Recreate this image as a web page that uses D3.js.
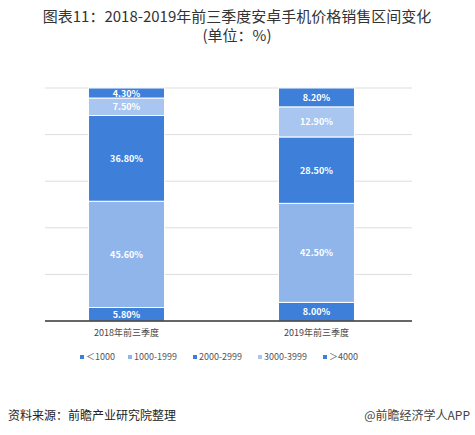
<!DOCTYPE html>
<html><head><meta charset="utf-8">
<script src="https://cdn.jsdelivr.net/npm/d3@7"></script>
<style>body{margin:0;background:#fff}text{font-family:"Noto Sans CJK SC",sans-serif}</style>
</head><body><svg id="chart"></svg>
<script>
const width = 475, height = 435;
const categories = ["2018年前三季度", "2019年前三季度"];
const seriesNames = ["＜1000", "1000-1999", "2000-2999", "3000-3999", "＞4000"];
const values2018 = [5.8, 45.6, 36.8, 7.5, 4.3];
const values2019 = [8.0, 42.5, 28.5, 12.9, 8.2];
const colors = ["#3d7fd9", "#8fb5ea", "#3d7fd9", "#a8c6f0", "#3d7fd9"];

const svg = d3.select("#chart").attr("width", width).attr("height", height);

svg.append("text").attr("x", 237).attr("y", 22).attr("text-anchor", "middle")
  .attr("font-size", 15).attr("fill", "#333").text("图表11：2018-2019年前三季度安卓手机价格销售区间变化");
svg.append("text").attr("x", 237).attr("y", 41).attr("text-anchor", "middle")
  .attr("font-size", 15).attr("fill", "#333").text("(单位：%)");

const x = d3.scaleBand().domain(categories).range([38, 405]).paddingInner(0.6).paddingOuter(0.266);
const y = d3.scaleLinear().domain([0, 100]).range([321, 88]);

// gridlines
svg.append("g").selectAll("line").data([20, 40, 60, 80, 100]).enter().append("line")
  .attr("x1", 45).attr("x2", 412).attr("y1", d => y(d)).attr("y2", d => y(d))
  .attr("stroke", "#ddd").attr("stroke-width", 1);

const data = [values2018, values2019];
data.forEach((vals, i) => {
  let acc = 0;
  vals.forEach((v, j) => {
    const y0 = acc, y1 = Math.min(acc + v, 100);
    acc += v;
    svg.append("rect").attr("x", x(categories[i])).attr("width", x.bandwidth())
      .attr("y", y(y1)).attr("height", y(y0) - y(y1))
      .attr("fill", colors[j]).attr("stroke", "#fff").attr("stroke-width", 1);
    svg.append("text").attr("x", x(categories[i]) + x.bandwidth() / 2)
      .attr("y", (y(y0) + y(y1)) / 2 + 3.5).attr("text-anchor", "middle")
      .attr("font-size", 9).attr("font-weight", "bold").attr("fill", "#fff")
      .text(v.toFixed(2) + "%");
  });
});

// baseline + x axis
const xAxis = svg.append("g").attr("transform", "translate(0,321)")
  .call(d3.axisBottom(x).tickSize(0).tickPadding(9));
xAxis.select(".domain").attr("stroke", "#333").attr("stroke-width", 1.5).attr("d", "M45,0H412");
xAxis.selectAll("text").attr("font-size", 9).attr("fill", "#444");

// legend
const legendX = [80, 128, 193, 258, 323];
seriesNames.forEach((n, i) => {
  const g = svg.append("g").attr("transform", `translate(${legendX[i]},360)`);
  g.append("rect").attr("x", 0).attr("y", -5).attr("width", 4).attr("height", 4).attr("fill", colors[i]);
  g.append("text").attr("x", 6).attr("y", 0).attr("font-size", 9).attr("fill", "#555").text(n);
});

svg.append("text").attr("x", 8).attr("y", 420).attr("font-size", 12).attr("fill", "#222").text("资料来源：前瞻产业研究院整理");
svg.append("text").attr("x", 470).attr("y", 420).attr("text-anchor", "end").attr("font-size", 12).attr("fill", "#444").text("@前瞻经济学人APP");
</script></body></html>
